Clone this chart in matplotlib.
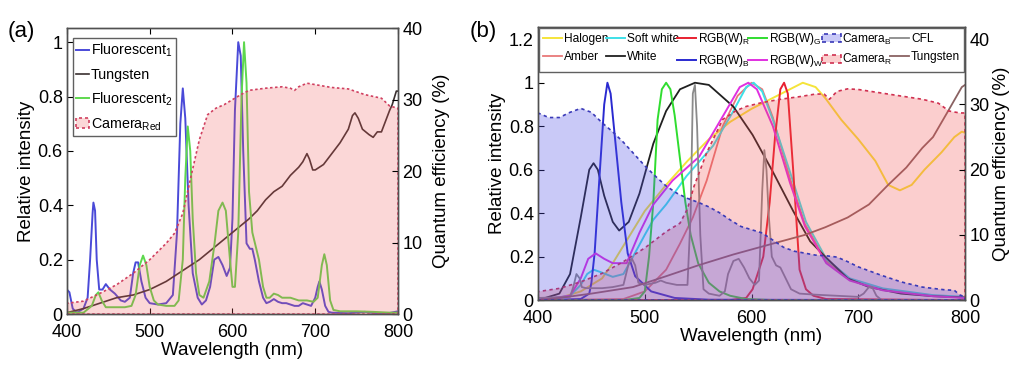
import numpy as np
import matplotlib
matplotlib.use("Agg")
import matplotlib.pyplot as plt
from matplotlib.ticker import FuncFormatter

plt.rcParams["font.family"] = ["Liberation Sans", "DejaVu Sans"]
plt.rcParams["mathtext.fontset"] = "custom"
plt.rcParams["mathtext.rm"] = "Liberation Sans"
plt.rcParams["mathtext.it"] = "Liberation Sans"
plt.rcParams["mathtext.default"] = "regular"

# ---------------- panel (a) data ----------------
wl_fl1 = [400, 403, 407, 412, 420, 425, 428, 431, 432, 434, 436, 439, 443, 447, 452, 458,
          465, 470, 476, 480, 483, 486, 490, 495, 500, 510, 520, 528, 533, 537, 540, 543,
          547, 552, 558, 563, 568, 573, 578, 583, 588, 593, 597, 600, 603, 607, 610, 613,
          617, 621, 624, 627, 632, 637, 641, 645, 650, 655, 660, 665, 670, 675, 680, 685,
          690, 695, 700, 703, 705, 708, 712, 716, 720, 740, 760, 770, 790, 800]
fl1 = [0.09, 0.08, 0.02, 0.005, 0.02, 0.06, 0.2, 0.37, 0.41, 0.38, 0.2, 0.09, 0.09, 0.11,
       0.09, 0.075, 0.05, 0.045, 0.06, 0.15, 0.19, 0.19, 0.12, 0.06, 0.04, 0.035, 0.04, 0.07,
       0.3, 0.7, 0.83, 0.72, 0.4, 0.15, 0.06, 0.035, 0.05, 0.1, 0.2, 0.21, 0.18, 0.14, 0.17,
       0.35, 0.75, 1.0, 0.95, 0.6, 0.26, 0.24, 0.24, 0.2, 0.12, 0.06, 0.04, 0.045, 0.055,
       0.045, 0.04, 0.04, 0.035, 0.03, 0.03, 0.04, 0.035, 0.03, 0.06, 0.1, 0.12, 0.09, 0.03,
       0.008, 0.005, 0.003, 0.008, 0.004, 0.004, 0.01]

wl_fl2 = [400, 420, 430, 435, 438, 442, 447, 470, 478, 483, 488, 492, 496, 500, 505, 510,
          520, 530, 535, 540, 543, 546, 549, 552, 556, 560, 565, 572, 578, 583, 588, 592,
          597, 600, 603, 607, 611, 614, 617, 620, 624, 628, 632, 637, 641, 645, 650, 655,
          660, 665, 670, 680, 690, 698, 703, 708, 711, 714, 718, 722, 730, 750, 770, 790, 800]
fl2 = [0.005, 0.005, 0.03, 0.07, 0.08, 0.05, 0.025, 0.025, 0.03, 0.07, 0.18, 0.215, 0.18,
       0.1, 0.05, 0.035, 0.03, 0.03, 0.05, 0.2, 0.5, 0.69, 0.6, 0.35, 0.15, 0.07, 0.06, 0.12,
       0.25, 0.38, 0.41, 0.38, 0.2, 0.1, 0.1, 0.3, 0.8, 1.0, 0.85, 0.45, 0.3, 0.25, 0.2, 0.1,
       0.06, 0.06, 0.075, 0.07, 0.06, 0.06, 0.06, 0.05, 0.05, 0.045, 0.06, 0.18, 0.22, 0.18,
       0.05, 0.015, 0.01, 0.01, 0.008, 0.005, 0.005]

wl_tung_a = [400, 420, 440, 460, 480, 500, 520, 540, 560, 580, 600, 620, 630, 640, 650, 660,
             670, 680, 685, 690, 693, 697, 700, 705, 710, 720, 730, 740, 745, 748, 752, 757,
             765, 770, 775, 780, 785, 790, 793, 796, 798, 800]
tung_a = [0.005, 0.02, 0.04, 0.06, 0.07, 0.09, 0.12, 0.16, 0.2, 0.25, 0.3, 0.35, 0.38, 0.42,
          0.45, 0.47, 0.51, 0.54, 0.56, 0.59, 0.57, 0.53, 0.53, 0.54, 0.55, 0.59, 0.63, 0.68,
          0.73, 0.74, 0.72, 0.68, 0.66, 0.65, 0.67, 0.67, 0.71, 0.75, 0.77, 0.80, 0.82, 0.82]

wl_cam_a = [400, 420, 440, 460, 480, 500, 520, 530, 540, 550, 560, 570, 580, 590, 600, 610,
            620, 640, 660, 670, 675, 680, 690, 700, 720, 740, 760, 780, 790, 800]
cam_a = [1.5, 1.8, 2.9, 4.1, 5.7, 7.6, 9.9, 11.3, 14.1, 19.3, 24.4, 27.9, 28.8, 29.3, 30.0,
         30.7, 31.3, 31.6, 31.8, 31.6, 31.3, 31.8, 32.3, 32.1, 31.7, 31.5, 30.7, 30.2, 29.1, 28.8]

# ---------------- panel (b) data ----------------
wl_hal = [400, 420, 440, 460, 470, 480, 490, 500, 510, 520, 540, 560, 580, 600, 620, 640,
          648, 660, 669, 684, 700, 716, 728, 739, 750, 762, 778, 790, 797, 800]
hal = [0.0, 0.01, 0.04, 0.1, 0.17, 0.25, 0.33, 0.41, 0.47, 0.53, 0.64, 0.74, 0.82, 0.88,
       0.93, 0.98, 1.0, 0.98, 0.93, 0.83, 0.74, 0.64, 0.53, 0.505, 0.53, 0.6, 0.68, 0.75,
       0.775, 0.77]

wl_soft = [400, 430, 440, 446, 452, 458, 470, 480, 489, 500, 508, 520, 539, 564, 583, 595,
           602, 610, 620, 636, 651, 670, 692, 723, 770, 800]
soft = [0.0, 0.02, 0.07, 0.12, 0.14, 0.13, 0.107, 0.12, 0.2, 0.3, 0.37, 0.44, 0.57, 0.71,
        0.87, 0.98, 1.0, 0.96, 0.83, 0.59, 0.36, 0.19, 0.1, 0.054, 0.023, 0.015]

wl_rgbw = [400, 430, 440, 447, 454, 462, 470, 483, 495, 508, 526, 551, 576, 589, 597, 605,
           620, 636, 650, 670, 692, 723, 770, 800]
rgbw = [0.0, 0.02, 0.1, 0.19, 0.215, 0.19, 0.17, 0.17, 0.31, 0.44, 0.55, 0.66, 0.87, 0.98,
        1.0, 0.97, 0.8, 0.54, 0.34, 0.17, 0.09, 0.045, 0.018, 0.01]

wl_amber = [400, 480, 500, 520, 533, 545, 558, 573, 587, 600, 610, 620, 636, 650, 670, 692,
            723, 770, 800]
amber = [0.0, 0.005, 0.04, 0.14, 0.26, 0.38, 0.55, 0.8, 0.94, 1.0, 0.97, 0.84, 0.56, 0.35,
         0.18, 0.095, 0.048, 0.02, 0.012]

wl_white = [400, 420, 430, 440, 448, 452, 456, 462, 470, 476, 485, 495, 508, 520, 533, 547,
            560, 583, 601, 620, 639, 655, 669, 690, 710, 740, 770, 800]
white = [0.0, 0.03, 0.12, 0.38, 0.6, 0.63, 0.6, 0.48, 0.36, 0.32, 0.36, 0.49, 0.72, 0.87,
         0.97, 1.0, 0.99, 0.89, 0.76, 0.59, 0.41, 0.27, 0.2, 0.1, 0.06, 0.03, 0.018, 0.012]

wl_rgbb = [400, 440, 448, 450, 453, 458, 462, 465, 468, 472, 478, 484, 491, 506, 528, 560, 800]
rgbb = [0.0, 0.005, 0.03, 0.08, 0.215, 0.6, 0.9, 1.0, 0.95, 0.75, 0.45, 0.215, 0.11, 0.04,
        0.01, 0.002, 0.0]

wl_rgbg = [400, 480, 495, 500, 504, 508, 512, 516, 520, 524, 528, 533, 538, 543, 550, 560,
           570, 580, 595, 620, 800]
rgbg = [0.0, 0.0, 0.01, 0.04, 0.2, 0.45, 0.83, 0.97, 1.0, 0.97, 0.85, 0.65, 0.45, 0.3, 0.17,
        0.08, 0.04, 0.02, 0.005, 0.0, 0.0]

wl_rgbr = [400, 580, 595, 601, 611, 617, 622, 627, 630.5, 634, 639, 645, 651, 658, 670, 800]
rgbr = [0.0, 0.0, 0.01, 0.05, 0.2, 0.45, 0.75, 0.97, 1.0, 0.95, 0.6, 0.14, 0.05, 0.02, 0.005, 0.0]

wl_cfl = [400, 430, 433, 436, 439, 441, 445, 460, 470, 480, 485, 488, 491, 494, 500, 510,
          515, 520, 530, 540, 543, 545, 547, 549, 552, 555, 560, 570, 575, 578, 583, 588,
          593, 598, 603, 607, 610, 612, 614, 616, 619, 623, 627, 632, 637, 645, 660, 680,
          700, 705, 710, 713, 717, 722, 800]
cfl = [0.01, 0.015, 0.06, 0.12, 0.1, 0.06, 0.055, 0.055, 0.06, 0.07, 0.17, 0.19, 0.16, 0.08,
       0.07, 0.08, 0.09, 0.08, 0.07, 0.07, 0.4, 0.95, 0.99, 0.8, 0.3, 0.05, 0.03, 0.02, 0.04,
       0.12, 0.18, 0.19, 0.15, 0.1, 0.07, 0.09, 0.5, 0.69, 0.6, 0.4, 0.2, 0.16, 0.15, 0.1,
       0.05, 0.03, 0.025, 0.02, 0.015, 0.03, 0.06, 0.06, 0.02, 0.0, 0.0]

wl_tung_b = [400, 420, 450, 489, 520, 550, 583, 620, 650, 669, 690, 710, 728, 745, 760, 770,
             783, 797, 800]
tung_b = [0.0, 0.01, 0.03, 0.06, 0.11, 0.16, 0.21, 0.26, 0.3, 0.335, 0.38, 0.44, 0.53, 0.61,
          0.7, 0.75, 0.86, 0.98, 0.99]

wl_camb = [400, 410, 420, 430, 440, 450, 460, 470, 480, 490, 500, 510, 520, 530, 540, 550,
           560, 570, 580, 590, 600, 610, 620, 630, 640, 650, 660, 670, 680, 690, 700, 720,
           740, 760, 780, 790, 795, 800]
camb = [28.7, 28.0, 28.0, 28.8, 29.4, 28.8, 27.2, 25.8, 24.2, 22.4, 20.6, 19.0, 17.5, 16.4,
        15.6, 15.0, 14.3, 13.4, 12.3, 11.3, 10.8, 10.3, 9.2, 8.1, 7.5, 7.2, 6.9, 6.8, 6.6, 5.9,
        5.1, 3.9, 2.8, 2.0, 1.6, 1.5, 0.8, 0.5]

wl_camr = [400, 420, 440, 460, 480, 500, 520, 533, 540, 546, 558, 573, 585, 595, 610, 627,
           645, 660, 668, 673, 680, 690, 700, 720, 740, 760, 775, 785, 795, 800]
camr = [1.3, 1.8, 2.8, 4.1, 5.9, 8.0, 10.5, 11.8, 14.0, 17.4, 22.6, 27.7, 29.0, 29.7, 30.3,
        30.8, 31.2, 31.6, 31.6, 30.8, 32.0, 32.4, 32.3, 31.8, 31.3, 30.8, 30.2, 29.0, 28.7, 28.7]


def g_fmt(v, pos):
    return "%g" % round(v, 2)


def style_axes(ax, ax2, right_pad):
    for a in (ax, ax2):
        for s in a.spines.values():
            s.set_color("#505050")
            s.set_linewidth(1.0)
    ax.tick_params(direction="in", top=True, right=False, length=4, labelsize=13, pad=3)
    ax.tick_params(axis="x", pad=7)
    ax2.tick_params(direction="in", length=4, labelsize=13, pad=3)
    ax.set_xlim(400, 800)
    ax.set_xticks([400, 500, 600, 700, 800])
    ax.yaxis.set_major_formatter(FuncFormatter(g_fmt))
    ax.set_xlabel("Wavelength (nm)", fontsize=13.5, labelpad=1)
    ax.set_ylabel("Relative intensity", fontsize=13.5, labelpad=2)
    ax2.set_ylabel("Quantum efficiency (%)", fontsize=13.5, labelpad=right_pad)


fig = plt.figure(figsize=(10.14, 3.66), dpi=100)

# ---------------- (a) ----------------
ax = fig.add_axes([0.066, 0.142, 0.3265, 0.781])
ax2 = ax.twinx()
ax.plot(wl_fl1, fl1, color="#4a4ad8", lw=1.4, label="Fluorescent$_1$")
ax.plot(wl_tung_a, tung_a, color="#3a3030", lw=1.2, label="Tungsten")
ax.plot(wl_fl2, fl2, color="#5ed84e", lw=1.4, label="Fluorescent$_2$")
cam_a_fill = ax2.fill_between(wl_cam_a, cam_a, 0, facecolor=(0.95, 0.35, 0.35, 0.24),
                              edgecolor="#d04060", linestyle=(0, (1.5, 1.5)), lw=1.2,
                              label="Camera$_{Red}$")
ax.set_ylim(0, 1.0515)
ax.set_yticks([0, 0.2, 0.4, 0.6, 0.8, 1.0])
ax2.set_ylim(0, 40)
ax2.set_yticks([0, 10, 20, 30, 40])
style_axes(ax, ax2, 8)
h, l = ax.get_legend_handles_labels()
leg = ax2.legend(h + [cam_a_fill], l + ["Camera$_{Red}$"], loc="upper left",
                 bbox_to_anchor=(0.0, 0.985), fontsize=10.3, handlelength=0.9,
                 handletextpad=0.1, labelspacing=0.6, borderpad=0.25, borderaxespad=0.4,
                 fancybox=False, framealpha=1, edgecolor="#606060")
leg.get_frame().set_linewidth(1.0)

# ---------------- (b) ----------------
bx = fig.add_axes([0.5306, 0.180, 0.4211, 0.746])
bx2 = bx.twinx()
l_hal, = bx.plot(wl_hal, hal, color="#f5e43a", lw=1.4, label="Halogen")
l_amb, = bx.plot(wl_amber, amber, color="#e87878", lw=1.3, label="Amber")
l_soft, = bx.plot(wl_soft, soft, color="#3ee0e8", lw=1.4, label="Soft white")
l_wht, = bx.plot(wl_white, white, color="#202020", lw=1.3, label="White")
l_r, = bx.plot(wl_rgbr, rgbr, color="#e82030", lw=1.4, label="RGB(W)$_R$")
l_b, = bx.plot(wl_rgbb, rgbb, color="#2a2ad0", lw=1.4, label="RGB(W)$_B$")
l_g, = bx.plot(wl_rgbg, rgbg, color="#30dd30", lw=1.4, label="RGB(W)$_G$")
l_w, = bx.plot(wl_rgbw, rgbw, color="#e030e0", lw=1.4, label="RGB(W)$_W$")
l_cfl, = bx.plot(wl_cfl, cfl, color="#8a8a8a", lw=1.3, label="CFL")
l_tb, = bx.plot(wl_tung_b, tung_b, color="#8a6262", lw=1.3, label="Tungsten")
f_r = bx2.fill_between(wl_camr, camr, 0, facecolor=(0.95, 0.3, 0.3, 0.27),
                       edgecolor="#d03050", linestyle=(0, (2, 2)), lw=1.2, label="Camera$_R$")
f_b = bx2.fill_between(wl_camb, camb, 0, facecolor=(0.3, 0.3, 0.9, 0.3),
                       edgecolor="#3a3ab8", linestyle=(0, (2, 2)), lw=1.2, label="Camera$_B$")
bx.set_ylim(0, 1.256)
bx.set_yticks([0, 0.2, 0.4, 0.6, 0.8, 1.0, 1.2])
bx2.set_ylim(0, 41.87)
bx2.set_yticks([0, 10, 20, 30, 40])
style_axes(bx, bx2, 3)
handles = [l_hal, l_amb, l_soft, l_wht, l_r, l_b, l_g, l_w, f_b, f_r, l_cfl, l_tb]
labels = ["Halogen", "Amber", "Soft white", "White", "RGB(W)$_R$", "RGB(W)$_B$",
          "RGB(W)$_G$", "RGB(W)$_W$", "Camera$_B$", "Camera$_R$", "CFL", "Tungsten"]
leg_b = bx2.legend(handles, labels, ncol=6, loc="upper left",
                   bbox_to_anchor=(0.003, 0.997, 0.994, 0), mode="expand", fontsize=8.6,
                   handlelength=1.6, handletextpad=0.15, columnspacing=0.3,
                   labelspacing=0.45, borderpad=0.3, borderaxespad=0.0, fancybox=False,
                   framealpha=1, edgecolor="#606060")
leg_b.get_frame().set_linewidth(1.0)

fig.text(0.008, 0.9, "(a)", fontsize=16, va="baseline")
fig.text(0.463, 0.9, "(b)", fontsize=16, va="baseline")

fig.savefig("out.png", dpi=100)
